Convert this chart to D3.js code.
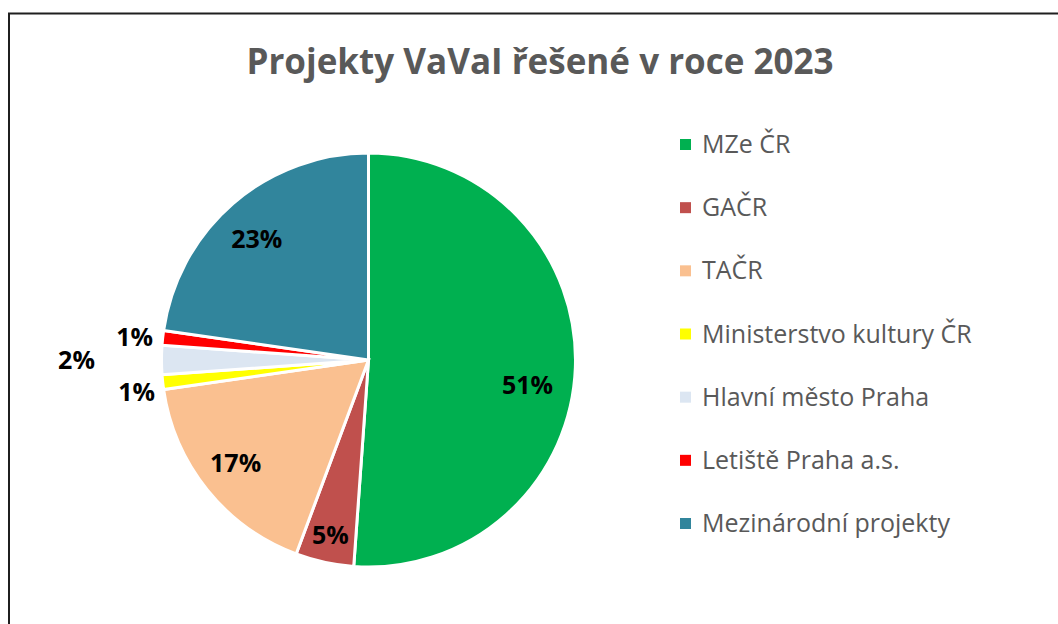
<!DOCTYPE html>
<html lang="cs">
<head>
<meta charset="utf-8">
<title>Projekty VaVaI</title>
<script src="https://cdn.jsdelivr.net/npm/d3@7"></script>
<style>
  body { margin: 0; background: #fff; }
  svg text { font-family: "Open Sans", "Noto Sans", sans-serif; }
</style>
</head>
<body>
<svg id="chart" width="1058" height="624"></svg>
<script>
// data - pocty projektu (vycteno z grafu)
var categories = ["MZe ČR", "GAČR", "TAČR", "Ministerstvo kultury ČR", "Hlavní město Praha", "Letiště Praha a.s.", "Mezinárodní projekty"];
var values = [45, 4, 15, 1, 2, 1, 20];
var colors = ["#00B050", "#C0504D", "#FAC090", "#FFFF00", "#DCE6F2", "#FF0000", "#31859C"];
var title = "Projekty VaVaI řešené v roce 2023";

// umisteni popisku (vzdalenost od stredu, posun uhlu) - male vysece jsou venku
var labelRadius = [161, 179, 168, 234, 292, 235, 165];
var labelShift = [0.12, 0, 0.02, -0.03, 0, -0.01, -0.03];

var svg = d3.select("#chart");
var cx = 368.5, cy = 360, r = 207;

// ramecek
svg.append("rect")
   .attr("x", 9).attr("y", 13.5)
   .attr("width", 1100).attr("height", 700)
   .attr("fill", "none")
   .attr("stroke", "#1f1f1f")
   .attr("stroke-width", 2);

svg.append("text")
   .attr("x", 540).attr("y", 74)
   .attr("text-anchor", "middle")
   .attr("font-size", "35px")
   .attr("font-weight", "bold")
   .attr("fill", "#595959")
   .text(title);

var total = d3.sum(values);
var pie = d3.pie().sort(null).value(function(d) { return d; });
var arcs = pie(values);
var arc = d3.arc().innerRadius(0).outerRadius(r);

var g = svg.append("g").attr("transform", "translate(" + cx + "," + cy + ")");

g.selectAll("path")
 .data(arcs)
 .enter().append("path")
 .attr("d", arc)
 .attr("fill", function(d, i) { return colors[i]; })
 .attr("stroke", "#fff")
 .attr("stroke-width", 3);

function mid(d, i) { return (d.startAngle + d.endAngle) / 2 + labelShift[i]; }

g.selectAll(".lbl")
 .data(arcs)
 .enter().append("text")
 .attr("class", "lbl")
 .attr("x", function(d, i) { return Math.sin(mid(d, i)) * labelRadius[i]; })
 .attr("y", function(d, i) { return -Math.cos(mid(d, i)) * labelRadius[i]; })
 .attr("dy", "0.36em")
 .attr("text-anchor", "middle")
 .attr("font-size", "25px")
 .attr("font-weight", "bold")
 .attr("fill", "#000")
 .text(function(d) { return Math.round(d.value / total * 100) + "%"; });

// legenda
var y = d3.scalePoint().domain(categories).range([153, 532]);

var leg = svg.append("g");
leg.selectAll("rect")
   .data(categories)
   .enter().append("rect")
   .attr("x", 680)
   .attr("y", function(d) { return y(d) - 14; })
   .attr("width", 11).attr("height", 11)
   .attr("fill", function(d, i) { return colors[i]; });

leg.selectAll("text")
   .data(categories)
   .enter().append("text")
   .attr("x", 702)
   .attr("y", function(d) { return y(d); })
   .attr("font-size", "25px")
   .attr("fill", "#595959")
   .text(function(d) { return d; });
</script>
</body>
</html>
